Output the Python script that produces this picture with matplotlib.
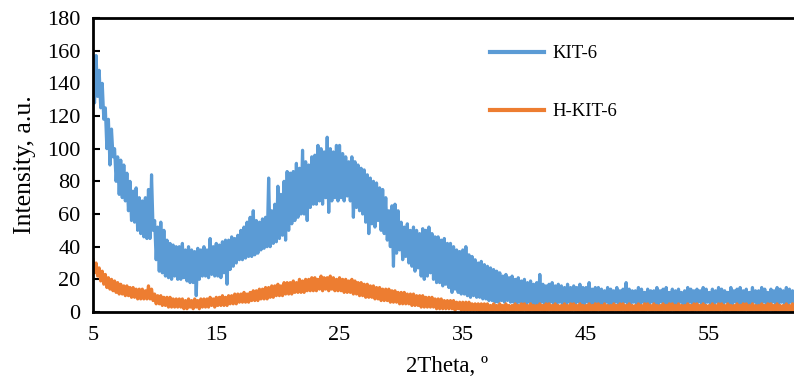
import numpy as np
import matplotlib
matplotlib.use("Agg")
import matplotlib.pyplot as plt

plt.rcParams['font.family'] = ['Liberation Serif', 'DejaVu Serif']

# 2Theta sampling grid (degrees); each sample holds the upper and lower
# extent of the noisy intensity trace in that slot
theta_start = 5.0
theta_step = 0.25

kit6_hi = [
    140, 157, 148, 140,  125, 118, 112, 100,  95, 93, 90, 85,
    80, 74, 76, 70,  68, 70, 75, 84,  56, 52, 55, 50,
    44, 42, 41, 40,  40, 42, 38, 40,  38, 37, 39, 38,
    40, 38, 45, 40,  42, 41, 43, 44,  44, 46, 45, 47,
    50, 52, 55, 58,  62, 56, 55, 57,  58, 82, 62, 66,
    77, 72, 80, 86,  85, 86, 91, 88,  99, 92, 90, 95,
    96, 102, 100, 98,  107, 100, 98, 102,  102, 97, 95, 92,
    95, 92, 90, 88,  87, 84, 82, 80,  79, 76, 75, 70,
    62, 65, 66, 62,  55, 52, 54, 50,  52, 50, 48, 51,
    50, 52, 48, 46,  46, 44, 45, 42,  42, 40, 38, 37,
    38, 40, 35, 34,  32, 30, 31, 29,  28, 27, 26, 25,
    24, 22, 23, 21,  22, 20, 21, 19,  20, 18, 19, 17,
    18, 23, 17, 16,  17, 18, 16, 17,  16, 15, 17, 15,
    16, 15, 17, 15,  15, 18, 14, 15,  15, 14, 13, 15,
    14, 13, 15, 13,  14, 18, 14, 13,  13, 15, 14, 12,
    14, 13, 13, 15,  13, 14, 15, 12,  14, 13, 14, 12,
    13, 15, 14, 13,  14, 13, 15, 14,  12, 14, 13, 15,
    14, 13, 12, 15,  13, 14, 15, 13,  14, 12, 15, 13,
    13, 15, 14, 12,  14, 13, 15, 14,  13, 15, 14, 13,
]

kit6_lo = [
    128, 132, 125, 118,  100, 90, 95, 80,  72, 70, 68, 62,
    56, 55, 50, 48,  46, 45, 45, 50,  32, 25, 24, 22,
    21, 20, 22, 20,  20, 21, 19, 18,  18, 10, 20, 22,
    22, 21, 23, 22,  22, 21, 24, 17,  26, 28, 30, 32,
    32, 33, 34, 34,  35, 36, 38, 39,  40, 40, 42, 43,
    45, 47, 44, 50,  54, 56, 58, 60,  60, 56, 64, 66,
    66, 68, 66, 70,  61, 68, 70, 68,  70, 68, 71, 68,
    58, 64, 62, 60,  55, 48, 54, 52,  56, 50, 48, 44,
    40, 28, 36, 38,  32, 34, 30, 28,  25, 27, 22, 20,
    22, 24, 20, 18,  18, 16, 17, 15,  12, 14, 12, 11,
    11, 10, 9, 10,  9, 9, 8, 8,  7, 7, 6, 6,
    7, 6, 7, 6,  6, 5, 6, 5,  5, 6, 5, 4,
    5, 6, 5, 5,  6, 5, 5, 6,  5, 5, 6, 5,
    5, 6, 5, 5,  6, 5, 5, 6,  5, 5, 6, 5,
    5, 6, 5, 5,  6, 5, 5, 6,  5, 5, 6, 5,
    5, 6, 5, 5,  6, 5, 5, 6,  5, 5, 6, 5,
    5, 6, 5, 5,  6, 5, 5, 6,  5, 5, 6, 5,
    5, 6, 5, 5,  6, 5, 5, 6,  5, 5, 6, 5,
    5, 6, 5, 5,  6, 5, 5, 6,  5, 5, 6, 5,
]

h_kit6_hi = [
    32, 30, 27, 25,  23, 21, 20, 19,  18, 17, 16, 16,
    15, 15, 14, 14,  14, 13, 16, 14,  11, 10, 10, 9,
    9, 9, 8, 8,  8, 8, 7, 8,  7, 8, 7, 8,
    8, 8, 9, 8,  9, 9, 10, 9,  10, 10, 11, 11,
    11, 12, 11, 12,  13, 13, 14, 14,  15, 15, 16, 16,
    17, 16, 18, 18,  18, 19, 18, 20,  19, 20, 20, 21,
    21, 20, 22, 21,  21, 22, 21, 20,  21, 20, 20, 19,
    20, 19, 18, 18,  17, 17, 16, 16,  15, 15, 14, 14,
    14, 13, 13, 12,  12, 12, 11, 11,  11, 10, 10, 10,
    9, 9, 9, 8,  8, 8, 7, 7,  7, 7, 6, 6,
    6, 6, 6, 5,  5, 5, 5, 5,  5, 4, 5, 4,
    5, 4, 5, 4,  4, 5, 4, 5,  5, 4, 5, 4,
    4, 5, 4, 5,  5, 4, 5, 4,  4, 5, 4, 5,
    5, 4, 5, 4,  4, 5, 4, 5,  5, 4, 5, 4,
    4, 5, 4, 5,  5, 4, 5, 4,  4, 5, 4, 5,
    5, 4, 5, 4,  4, 5, 4, 5,  5, 4, 5, 4,
    4, 5, 4, 5,  5, 4, 5, 4,  4, 5, 4, 5,
    5, 4, 5, 4,  4, 5, 4, 5,  5, 4, 5, 4,
    4, 5, 4, 5,  5, 4, 5, 4,  4, 5, 4, 5,
]

h_kit6_lo = [
    24, 22, 19, 17,  15, 14, 13, 12,  11, 11, 10, 10,
    9, 9, 8, 8,  8, 8, 8, 7,  5, 5, 4, 4,
    3, 3, 3, 3,  3, 2, 2, 3,  2, 3, 2, 3,
    3, 3, 4, 3,  4, 4, 4, 4,  5, 5, 5, 6,
    6, 6, 6, 7,  7, 7, 8, 8,  8, 9, 9, 10,
    10, 10, 11, 11,  11, 12, 12, 12,  12, 13, 13, 13,
    13, 14, 13, 14,  13, 14, 13, 13,  13, 12, 12, 12,
    11, 11, 10, 10,  9, 9, 9, 8,  8, 7, 7, 7,
    6, 6, 6, 5,  5, 5, 5, 4,  4, 4, 3, 3,
    3, 3, 3, 2,  2, 2, 2, 2,  2, 1, 2, 1,
    1, 1, 1, 1,  1, 0, 1, 0,  1, 0, 1, 0,
    1, 0, 1, 0,  0, 1, 0, 1,  1, 0, 1, 0,
    0, 1, 0, 1,  1, 0, 1, 0,  0, 1, 0, 1,
    1, 0, 1, 0,  0, 1, 0, 1,  1, 0, 1, 0,
    0, 1, 0, 1,  1, 0, 1, 0,  0, 1, 0, 1,
    1, 0, 1, 0,  0, 1, 0, 1,  1, 0, 1, 0,
    0, 1, 0, 1,  1, 0, 1, 0,  0, 1, 0, 1,
    1, 0, 1, 0,  0, 1, 0, 1,  1, 0, 1, 0,
    0, 1, 0, 1,  1, 0, 1, 0,  0, 1, 0, 1,
]

series_labels = ["KIT-6", "H-KIT-6"]
x_ticks = [5, 15, 25, 35, 45, 55]
y_ticks = [0, 20, 40, 60, 80, 100, 120, 140, 160, 180]


def trace(hi, lo):
    """Interleave the upper and lower extents into one scan trace."""
    n = len(hi)
    idx = np.arange(n)
    x = np.empty(2 * n)
    y = np.empty(2 * n)
    x[0::2] = theta_start + theta_step * idx
    x[1::2] = theta_start + theta_step * (idx + 0.5)
    y[0::2] = hi
    y[1::2] = lo
    return x, y


fig = plt.figure(figsize=(7.94, 3.85), dpi=100)
ax = fig.add_axes([93/794, 1 - 312/385, 1 - 93/794 + 0.01, (312 - 18)/385])

xb, yb = trace(kit6_hi, kit6_lo)
xo, yo = trace(h_kit6_hi, h_kit6_lo)
ax.plot(xb, yb, color='#5B9BD5', lw=2.3, label=series_labels[0])
ax.plot(xo, yo, color='#ED7D31', lw=2.3, label=series_labels[1])

ax.set_xlim(5, 5 + (794 - 93) / 12.36 + 0.8)
ax.set_ylim(0, 180)
ax.set_xticks(x_ticks)
ax.set_yticks(y_ticks)
ax.tick_params(axis='x', length=0, labelsize=16, pad=10)
ax.tick_params(axis='y', direction='in', length=5, width=1.5, labelsize=16, pad=9)
for s in ax.spines.values():
    s.set_linewidth(2)
    s.set_color('black')

ax.set_xlabel("2Theta, º", fontsize=16.5, labelpad=8)
ax.set_ylabel("Intensity, a.u.", fontsize=18.5, labelpad=8)

leg = ax.legend(loc='upper left', bbox_to_anchor=(490/794, 1 - 45/385),
                bbox_transform=fig.transFigure, frameon=False, fontsize=13.5,
                handlelength=2.9, handletextpad=0.45, labelspacing=2.2,
                borderpad=0, borderaxespad=0)
for line in leg.get_lines():
    line.set_linewidth(3)

fig.savefig("out.png", dpi=100)
